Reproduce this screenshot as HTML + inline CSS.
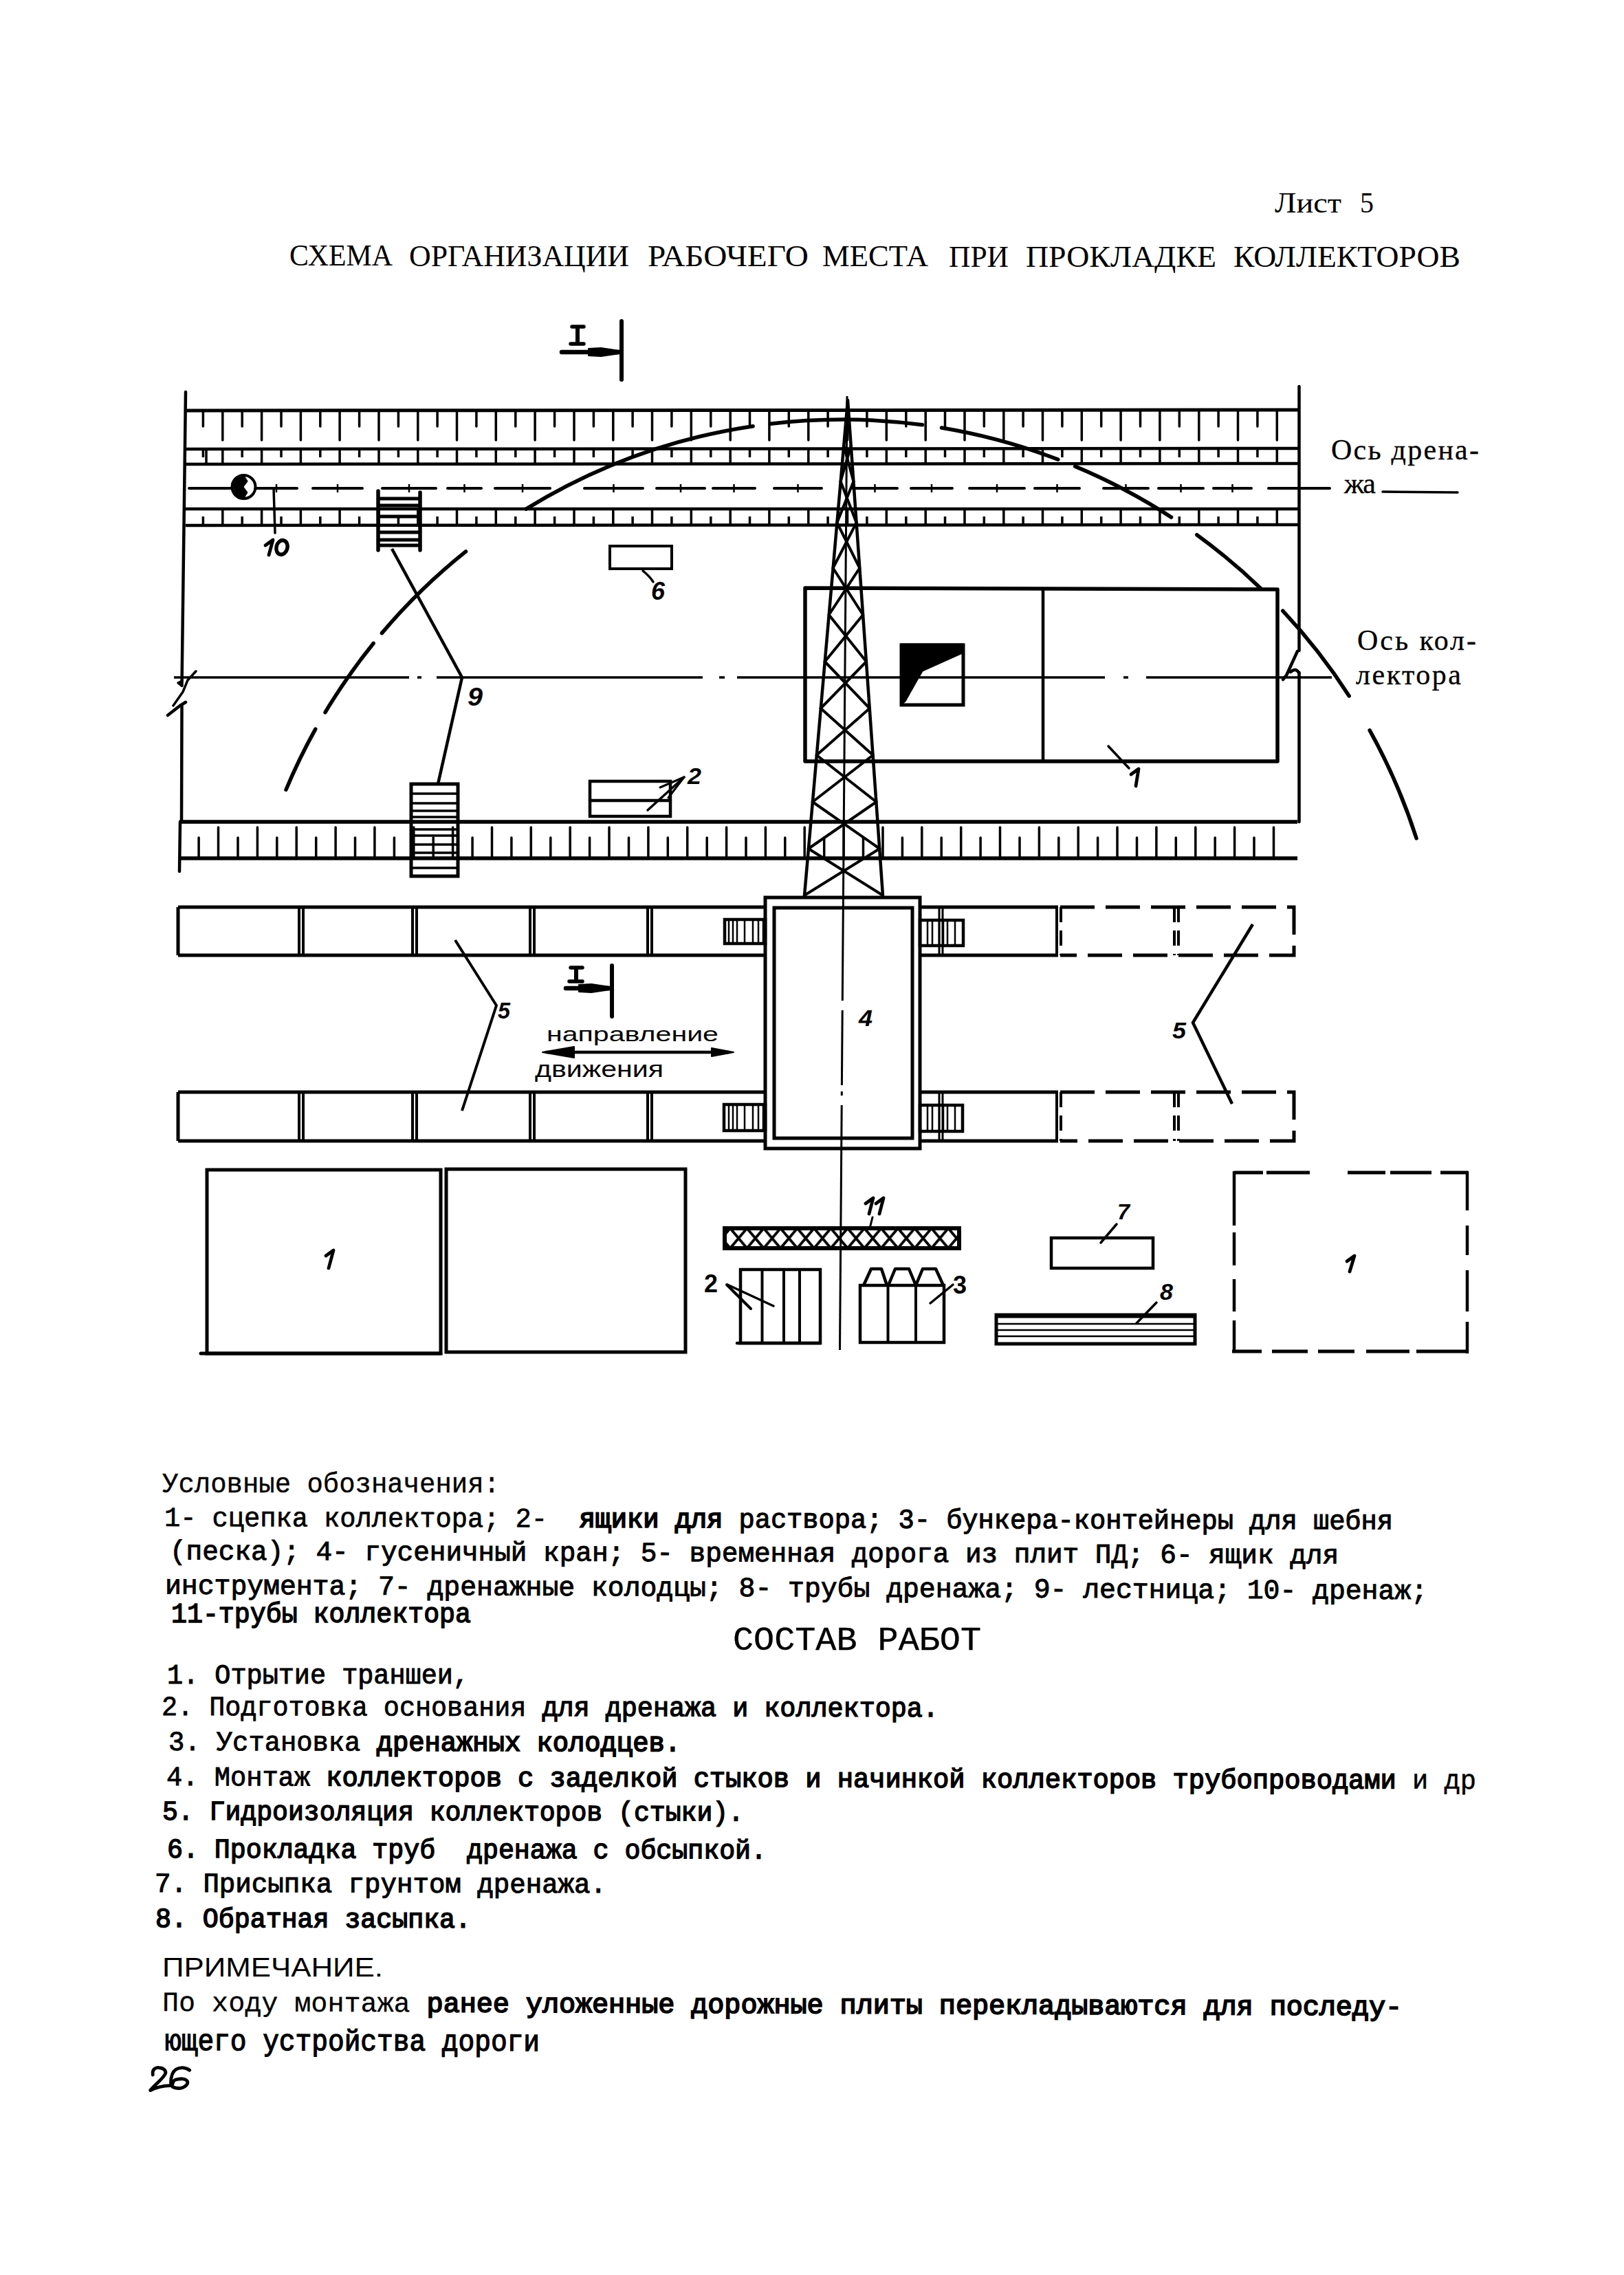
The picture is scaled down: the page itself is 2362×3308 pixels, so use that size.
<!DOCTYPE html>
<html><head><meta charset="utf-8"><style>
html,body{margin:0;padding:0;background:#fff;}
body{width:2362px;height:3308px;overflow:hidden;position:relative;}
svg{position:absolute;left:0;top:0;}
</style></head><body>
<svg width="2362" height="3308" viewBox="0 0 2362 3308" stroke="#000" fill="none">
<g fill="#000" stroke="#000">
<text x="1854" y="309" font-family="Liberation Serif" font-size="42" font-weight="normal" font-style="normal" textLength="97.0" lengthAdjust="spacingAndGlyphs" stroke="none">Лист</text>
<text x="1978" y="309" font-family="Liberation Serif" font-size="42" font-weight="normal" font-style="normal" textLength="20.0" lengthAdjust="spacingAndGlyphs" stroke="none">5</text>
<text x="421" y="386" font-family="Liberation Serif" font-size="44" font-weight="normal" font-style="normal" textLength="150.0" lengthAdjust="spacingAndGlyphs" stroke="none">СХЕМА</text>
<text x="595" y="386.5" font-family="Liberation Serif" font-size="44" font-weight="normal" font-style="normal" textLength="320.0" lengthAdjust="spacingAndGlyphs" stroke="none">ОРГАНИЗАЦИИ</text>
<text x="942" y="387" font-family="Liberation Serif" font-size="44" font-weight="normal" font-style="normal" textLength="234.0" lengthAdjust="spacingAndGlyphs" stroke="none">РАБОЧЕГО</text>
<text x="1196" y="387.3" font-family="Liberation Serif" font-size="44" font-weight="normal" font-style="normal" textLength="154.0" lengthAdjust="spacingAndGlyphs" stroke="none">МЕСТА</text>
<text x="1380" y="387.5" font-family="Liberation Serif" font-size="44" font-weight="normal" font-style="normal" textLength="87.0" lengthAdjust="spacingAndGlyphs" stroke="none">ПРИ</text>
<text x="1492" y="387.5" font-family="Liberation Serif" font-size="44" font-weight="normal" font-style="normal" textLength="277.0" lengthAdjust="spacingAndGlyphs" stroke="none">ПРОКЛАДКЕ</text>
<text x="1794" y="388" font-family="Liberation Serif" font-size="44" font-weight="normal" font-style="normal" textLength="330.0" lengthAdjust="spacingAndGlyphs" stroke="none">КОЛЛЕКТОРОВ</text>
<line x1="904.0" y1="467.0" x2="904.0" y2="552.0" stroke-width="6" stroke-linecap="round" />
<line x1="817.0" y1="512.0" x2="902.0" y2="512.0" stroke-width="6.5" stroke-linecap="round" />
<path d="M856.0 507.0 L874.0 506.0 L901.0 510.0 L901.0 514.0 L874.0 518.0 L856.0 517.0 Z" stroke-width="2" fill="#000" stroke-linejoin="round" />
<line x1="840.0" y1="474.0" x2="840.0" y2="500.0" stroke-width="6" stroke-linecap="butt" />
<line x1="832.0" y1="475.0" x2="849.0" y2="475.0" stroke-width="5.5" stroke-linecap="round" />
<line x1="830.0" y1="500.0" x2="849.0" y2="500.0" stroke-width="5.5" stroke-linecap="round" />
<line x1="890.0" y1="1404.0" x2="890.0" y2="1478.0" stroke-width="6" stroke-linecap="round" />
<line x1="823.0" y1="1437.0" x2="888.0" y2="1437.0" stroke-width="6.5" stroke-linecap="round" />
<path d="M842.0 1432.0 L860.0 1431.0 L887.0 1435.0 L887.0 1439.0 L860.0 1443.0 L842.0 1442.0 Z" stroke-width="2" fill="#000" stroke-linejoin="round" />
<line x1="838.0" y1="1406.0" x2="838.0" y2="1427.0" stroke-width="6" stroke-linecap="butt" />
<line x1="830.0" y1="1407.0" x2="847.0" y2="1407.0" stroke-width="5.5" stroke-linecap="round" />
<line x1="828.0" y1="1427.0" x2="847.0" y2="1427.0" stroke-width="5.5" stroke-linecap="round" />
<line x1="270.0" y1="570.0" x2="264.5" y2="997.0" stroke-width="4.5" stroke-linecap="round" />
<line x1="264.5" y1="1027.0" x2="264.0" y2="1195.0" stroke-width="4.5" stroke-linecap="round" />
<line x1="262.0" y1="1195.0" x2="261.0" y2="1267.0" stroke-width="4.5" stroke-linecap="round" />
<line x1="1889.5" y1="562.0" x2="1889.5" y2="946.0" stroke-width="4.5" stroke-linecap="round" />
<line x1="1889.5" y1="978.0" x2="1889.5" y2="1195.0" stroke-width="4.5" stroke-linecap="round" />
<line x1="270.0" y1="597.0" x2="1889.0" y2="596.0" stroke-width="5" stroke-linecap="butt" />
<line x1="270.0" y1="653.0" x2="1889.0" y2="652.0" stroke-width="4.5" stroke-linecap="butt" />
<line x1="270.0" y1="675.0" x2="1889.0" y2="674.0" stroke-width="4.5" stroke-linecap="butt" />
<line x1="270.0" y1="740.0" x2="1889.0" y2="740.0" stroke-width="4.5" stroke-linecap="butt" />
<line x1="270.0" y1="764.0" x2="1889.0" y2="763.0" stroke-width="4.5" stroke-linecap="butt" />
<line x1="323.8" y1="597.0" x2="323.8" y2="640.0" stroke-width="3.5" stroke-linecap="round" />
<line x1="323.8" y1="653.0" x2="323.8" y2="675.0" stroke-width="3.5" stroke-linecap="butt" />
<line x1="323.8" y1="740.0" x2="323.8" y2="764.0" stroke-width="3.5" stroke-linecap="butt" />
<line x1="380.6" y1="597.0" x2="380.6" y2="640.0" stroke-width="3.5" stroke-linecap="round" />
<line x1="380.6" y1="653.0" x2="380.6" y2="675.0" stroke-width="3.5" stroke-linecap="butt" />
<line x1="380.6" y1="740.0" x2="380.6" y2="764.0" stroke-width="3.5" stroke-linecap="butt" />
<line x1="437.4" y1="597.0" x2="437.4" y2="640.0" stroke-width="3.5" stroke-linecap="round" />
<line x1="437.4" y1="653.0" x2="437.4" y2="675.0" stroke-width="3.5" stroke-linecap="butt" />
<line x1="437.4" y1="740.0" x2="437.4" y2="764.0" stroke-width="3.5" stroke-linecap="butt" />
<line x1="494.1" y1="597.0" x2="494.1" y2="640.0" stroke-width="3.5" stroke-linecap="round" />
<line x1="494.1" y1="653.0" x2="494.1" y2="675.0" stroke-width="3.5" stroke-linecap="butt" />
<line x1="494.1" y1="740.0" x2="494.1" y2="764.0" stroke-width="3.5" stroke-linecap="butt" />
<line x1="551.0" y1="597.0" x2="551.0" y2="640.0" stroke-width="3.5" stroke-linecap="round" />
<line x1="551.0" y1="653.0" x2="551.0" y2="675.0" stroke-width="3.5" stroke-linecap="butt" />
<line x1="551.0" y1="740.0" x2="551.0" y2="764.0" stroke-width="3.5" stroke-linecap="butt" />
<line x1="607.8" y1="597.0" x2="607.8" y2="640.0" stroke-width="3.5" stroke-linecap="round" />
<line x1="607.8" y1="653.0" x2="607.8" y2="675.0" stroke-width="3.5" stroke-linecap="butt" />
<line x1="607.8" y1="740.0" x2="607.8" y2="764.0" stroke-width="3.5" stroke-linecap="butt" />
<line x1="664.5" y1="597.0" x2="664.5" y2="640.0" stroke-width="3.5" stroke-linecap="round" />
<line x1="664.5" y1="653.0" x2="664.5" y2="675.0" stroke-width="3.5" stroke-linecap="butt" />
<line x1="664.5" y1="740.0" x2="664.5" y2="764.0" stroke-width="3.5" stroke-linecap="butt" />
<line x1="721.3" y1="597.0" x2="721.3" y2="640.0" stroke-width="3.5" stroke-linecap="round" />
<line x1="721.3" y1="653.0" x2="721.3" y2="675.0" stroke-width="3.5" stroke-linecap="butt" />
<line x1="721.3" y1="740.0" x2="721.3" y2="764.0" stroke-width="3.5" stroke-linecap="butt" />
<line x1="778.1" y1="597.0" x2="778.1" y2="640.0" stroke-width="3.5" stroke-linecap="round" />
<line x1="778.1" y1="653.0" x2="778.1" y2="675.0" stroke-width="3.5" stroke-linecap="butt" />
<line x1="778.1" y1="740.0" x2="778.1" y2="764.0" stroke-width="3.5" stroke-linecap="butt" />
<line x1="835.0" y1="597.0" x2="835.0" y2="640.0" stroke-width="3.5" stroke-linecap="round" />
<line x1="835.0" y1="653.0" x2="835.0" y2="675.0" stroke-width="3.5" stroke-linecap="butt" />
<line x1="835.0" y1="740.0" x2="835.0" y2="764.0" stroke-width="3.5" stroke-linecap="butt" />
<line x1="891.8" y1="597.0" x2="891.8" y2="640.0" stroke-width="3.5" stroke-linecap="round" />
<line x1="891.8" y1="653.0" x2="891.8" y2="675.0" stroke-width="3.5" stroke-linecap="butt" />
<line x1="891.8" y1="740.0" x2="891.8" y2="764.0" stroke-width="3.5" stroke-linecap="butt" />
<line x1="948.5" y1="597.0" x2="948.5" y2="640.0" stroke-width="3.5" stroke-linecap="round" />
<line x1="948.5" y1="653.0" x2="948.5" y2="675.0" stroke-width="3.5" stroke-linecap="butt" />
<line x1="948.5" y1="740.0" x2="948.5" y2="764.0" stroke-width="3.5" stroke-linecap="butt" />
<line x1="1005.3" y1="597.0" x2="1005.3" y2="640.0" stroke-width="3.5" stroke-linecap="round" />
<line x1="1005.3" y1="653.0" x2="1005.3" y2="675.0" stroke-width="3.5" stroke-linecap="butt" />
<line x1="1005.3" y1="740.0" x2="1005.3" y2="764.0" stroke-width="3.5" stroke-linecap="butt" />
<line x1="1062.2" y1="597.0" x2="1062.2" y2="640.0" stroke-width="3.5" stroke-linecap="round" />
<line x1="1062.2" y1="653.0" x2="1062.2" y2="675.0" stroke-width="3.5" stroke-linecap="butt" />
<line x1="1062.2" y1="740.0" x2="1062.2" y2="764.0" stroke-width="3.5" stroke-linecap="butt" />
<line x1="1118.9" y1="597.0" x2="1118.9" y2="640.0" stroke-width="3.5" stroke-linecap="round" />
<line x1="1118.9" y1="653.0" x2="1118.9" y2="675.0" stroke-width="3.5" stroke-linecap="butt" />
<line x1="1118.9" y1="740.0" x2="1118.9" y2="764.0" stroke-width="3.5" stroke-linecap="butt" />
<line x1="1175.8" y1="597.0" x2="1175.8" y2="640.0" stroke-width="3.5" stroke-linecap="round" />
<line x1="1175.8" y1="653.0" x2="1175.8" y2="675.0" stroke-width="3.5" stroke-linecap="butt" />
<line x1="1175.8" y1="740.0" x2="1175.8" y2="764.0" stroke-width="3.5" stroke-linecap="butt" />
<line x1="1232.5" y1="597.0" x2="1232.5" y2="640.0" stroke-width="3.5" stroke-linecap="round" />
<line x1="1232.5" y1="653.0" x2="1232.5" y2="675.0" stroke-width="3.5" stroke-linecap="butt" />
<line x1="1232.5" y1="740.0" x2="1232.5" y2="764.0" stroke-width="3.5" stroke-linecap="butt" />
<line x1="1289.3" y1="597.0" x2="1289.3" y2="640.0" stroke-width="3.5" stroke-linecap="round" />
<line x1="1289.3" y1="653.0" x2="1289.3" y2="675.0" stroke-width="3.5" stroke-linecap="butt" />
<line x1="1289.3" y1="740.0" x2="1289.3" y2="764.0" stroke-width="3.5" stroke-linecap="butt" />
<line x1="1346.2" y1="597.0" x2="1346.2" y2="640.0" stroke-width="3.5" stroke-linecap="round" />
<line x1="1346.2" y1="653.0" x2="1346.2" y2="675.0" stroke-width="3.5" stroke-linecap="butt" />
<line x1="1346.2" y1="740.0" x2="1346.2" y2="764.0" stroke-width="3.5" stroke-linecap="butt" />
<line x1="1403.0" y1="597.0" x2="1403.0" y2="640.0" stroke-width="3.5" stroke-linecap="round" />
<line x1="1403.0" y1="653.0" x2="1403.0" y2="675.0" stroke-width="3.5" stroke-linecap="butt" />
<line x1="1403.0" y1="740.0" x2="1403.0" y2="764.0" stroke-width="3.5" stroke-linecap="butt" />
<line x1="1459.8" y1="597.0" x2="1459.8" y2="640.0" stroke-width="3.5" stroke-linecap="round" />
<line x1="1459.8" y1="653.0" x2="1459.8" y2="675.0" stroke-width="3.5" stroke-linecap="butt" />
<line x1="1459.8" y1="740.0" x2="1459.8" y2="764.0" stroke-width="3.5" stroke-linecap="butt" />
<line x1="1516.5" y1="597.0" x2="1516.5" y2="640.0" stroke-width="3.5" stroke-linecap="round" />
<line x1="1516.5" y1="653.0" x2="1516.5" y2="675.0" stroke-width="3.5" stroke-linecap="butt" />
<line x1="1516.5" y1="740.0" x2="1516.5" y2="764.0" stroke-width="3.5" stroke-linecap="butt" />
<line x1="1573.3" y1="597.0" x2="1573.3" y2="640.0" stroke-width="3.5" stroke-linecap="round" />
<line x1="1573.3" y1="653.0" x2="1573.3" y2="675.0" stroke-width="3.5" stroke-linecap="butt" />
<line x1="1573.3" y1="740.0" x2="1573.3" y2="764.0" stroke-width="3.5" stroke-linecap="butt" />
<line x1="1630.1" y1="597.0" x2="1630.1" y2="640.0" stroke-width="3.5" stroke-linecap="round" />
<line x1="1630.1" y1="653.0" x2="1630.1" y2="675.0" stroke-width="3.5" stroke-linecap="butt" />
<line x1="1630.1" y1="740.0" x2="1630.1" y2="764.0" stroke-width="3.5" stroke-linecap="butt" />
<line x1="1686.9" y1="597.0" x2="1686.9" y2="640.0" stroke-width="3.5" stroke-linecap="round" />
<line x1="1686.9" y1="653.0" x2="1686.9" y2="675.0" stroke-width="3.5" stroke-linecap="butt" />
<line x1="1686.9" y1="740.0" x2="1686.9" y2="764.0" stroke-width="3.5" stroke-linecap="butt" />
<line x1="1743.8" y1="597.0" x2="1743.8" y2="640.0" stroke-width="3.5" stroke-linecap="round" />
<line x1="1743.8" y1="653.0" x2="1743.8" y2="675.0" stroke-width="3.5" stroke-linecap="butt" />
<line x1="1743.8" y1="740.0" x2="1743.8" y2="764.0" stroke-width="3.5" stroke-linecap="butt" />
<line x1="1800.5" y1="597.0" x2="1800.5" y2="640.0" stroke-width="3.5" stroke-linecap="round" />
<line x1="1800.5" y1="653.0" x2="1800.5" y2="675.0" stroke-width="3.5" stroke-linecap="butt" />
<line x1="1800.5" y1="740.0" x2="1800.5" y2="764.0" stroke-width="3.5" stroke-linecap="butt" />
<line x1="1857.3" y1="597.0" x2="1857.3" y2="640.0" stroke-width="3.5" stroke-linecap="round" />
<line x1="1857.3" y1="653.0" x2="1857.3" y2="675.0" stroke-width="3.5" stroke-linecap="butt" />
<line x1="1857.3" y1="740.0" x2="1857.3" y2="764.0" stroke-width="3.5" stroke-linecap="butt" />
<line x1="295.4" y1="597.0" x2="295.4" y2="620.0" stroke-width="3.5" stroke-linecap="round" />
<line x1="295.4" y1="653.0" x2="295.4" y2="665.0" stroke-width="3.5" stroke-linecap="butt" />
<line x1="295.4" y1="764.0" x2="295.4" y2="751.0" stroke-width="3.5" stroke-linecap="butt" />
<line x1="352.2" y1="597.0" x2="352.2" y2="620.0" stroke-width="3.5" stroke-linecap="round" />
<line x1="352.2" y1="653.0" x2="352.2" y2="665.0" stroke-width="3.5" stroke-linecap="butt" />
<line x1="352.2" y1="764.0" x2="352.2" y2="751.0" stroke-width="3.5" stroke-linecap="butt" />
<line x1="409.0" y1="597.0" x2="409.0" y2="620.0" stroke-width="3.5" stroke-linecap="round" />
<line x1="409.0" y1="653.0" x2="409.0" y2="665.0" stroke-width="3.5" stroke-linecap="butt" />
<line x1="409.0" y1="764.0" x2="409.0" y2="751.0" stroke-width="3.5" stroke-linecap="butt" />
<line x1="465.8" y1="597.0" x2="465.8" y2="620.0" stroke-width="3.5" stroke-linecap="round" />
<line x1="465.8" y1="653.0" x2="465.8" y2="665.0" stroke-width="3.5" stroke-linecap="butt" />
<line x1="465.8" y1="764.0" x2="465.8" y2="751.0" stroke-width="3.5" stroke-linecap="butt" />
<line x1="522.6" y1="597.0" x2="522.6" y2="620.0" stroke-width="3.5" stroke-linecap="round" />
<line x1="522.6" y1="653.0" x2="522.6" y2="665.0" stroke-width="3.5" stroke-linecap="butt" />
<line x1="522.6" y1="764.0" x2="522.6" y2="751.0" stroke-width="3.5" stroke-linecap="butt" />
<line x1="579.4" y1="597.0" x2="579.4" y2="620.0" stroke-width="3.5" stroke-linecap="round" />
<line x1="579.4" y1="653.0" x2="579.4" y2="665.0" stroke-width="3.5" stroke-linecap="butt" />
<line x1="579.4" y1="764.0" x2="579.4" y2="751.0" stroke-width="3.5" stroke-linecap="butt" />
<line x1="636.1" y1="597.0" x2="636.1" y2="620.0" stroke-width="3.5" stroke-linecap="round" />
<line x1="636.1" y1="653.0" x2="636.1" y2="665.0" stroke-width="3.5" stroke-linecap="butt" />
<line x1="636.1" y1="764.0" x2="636.1" y2="751.0" stroke-width="3.5" stroke-linecap="butt" />
<line x1="692.9" y1="597.0" x2="692.9" y2="620.0" stroke-width="3.5" stroke-linecap="round" />
<line x1="692.9" y1="653.0" x2="692.9" y2="665.0" stroke-width="3.5" stroke-linecap="butt" />
<line x1="692.9" y1="764.0" x2="692.9" y2="751.0" stroke-width="3.5" stroke-linecap="butt" />
<line x1="749.8" y1="597.0" x2="749.8" y2="620.0" stroke-width="3.5" stroke-linecap="round" />
<line x1="749.8" y1="653.0" x2="749.8" y2="665.0" stroke-width="3.5" stroke-linecap="butt" />
<line x1="749.8" y1="764.0" x2="749.8" y2="751.0" stroke-width="3.5" stroke-linecap="butt" />
<line x1="806.6" y1="597.0" x2="806.6" y2="620.0" stroke-width="3.5" stroke-linecap="round" />
<line x1="806.6" y1="653.0" x2="806.6" y2="665.0" stroke-width="3.5" stroke-linecap="butt" />
<line x1="806.6" y1="764.0" x2="806.6" y2="751.0" stroke-width="3.5" stroke-linecap="butt" />
<line x1="863.4" y1="597.0" x2="863.4" y2="620.0" stroke-width="3.5" stroke-linecap="round" />
<line x1="863.4" y1="653.0" x2="863.4" y2="665.0" stroke-width="3.5" stroke-linecap="butt" />
<line x1="863.4" y1="764.0" x2="863.4" y2="751.0" stroke-width="3.5" stroke-linecap="butt" />
<line x1="920.1" y1="597.0" x2="920.1" y2="620.0" stroke-width="3.5" stroke-linecap="round" />
<line x1="920.1" y1="653.0" x2="920.1" y2="665.0" stroke-width="3.5" stroke-linecap="butt" />
<line x1="920.1" y1="764.0" x2="920.1" y2="751.0" stroke-width="3.5" stroke-linecap="butt" />
<line x1="976.9" y1="597.0" x2="976.9" y2="620.0" stroke-width="3.5" stroke-linecap="round" />
<line x1="976.9" y1="653.0" x2="976.9" y2="665.0" stroke-width="3.5" stroke-linecap="butt" />
<line x1="976.9" y1="764.0" x2="976.9" y2="751.0" stroke-width="3.5" stroke-linecap="butt" />
<line x1="1033.8" y1="597.0" x2="1033.8" y2="620.0" stroke-width="3.5" stroke-linecap="round" />
<line x1="1033.8" y1="653.0" x2="1033.8" y2="665.0" stroke-width="3.5" stroke-linecap="butt" />
<line x1="1033.8" y1="764.0" x2="1033.8" y2="751.0" stroke-width="3.5" stroke-linecap="butt" />
<line x1="1090.5" y1="597.0" x2="1090.5" y2="620.0" stroke-width="3.5" stroke-linecap="round" />
<line x1="1090.5" y1="653.0" x2="1090.5" y2="665.0" stroke-width="3.5" stroke-linecap="butt" />
<line x1="1090.5" y1="764.0" x2="1090.5" y2="751.0" stroke-width="3.5" stroke-linecap="butt" />
<line x1="1147.3" y1="597.0" x2="1147.3" y2="620.0" stroke-width="3.5" stroke-linecap="round" />
<line x1="1147.3" y1="653.0" x2="1147.3" y2="665.0" stroke-width="3.5" stroke-linecap="butt" />
<line x1="1147.3" y1="764.0" x2="1147.3" y2="751.0" stroke-width="3.5" stroke-linecap="butt" />
<line x1="1204.1" y1="597.0" x2="1204.1" y2="620.0" stroke-width="3.5" stroke-linecap="round" />
<line x1="1204.1" y1="653.0" x2="1204.1" y2="665.0" stroke-width="3.5" stroke-linecap="butt" />
<line x1="1204.1" y1="764.0" x2="1204.1" y2="751.0" stroke-width="3.5" stroke-linecap="butt" />
<line x1="1260.9" y1="597.0" x2="1260.9" y2="620.0" stroke-width="3.5" stroke-linecap="round" />
<line x1="1260.9" y1="653.0" x2="1260.9" y2="665.0" stroke-width="3.5" stroke-linecap="butt" />
<line x1="1260.9" y1="764.0" x2="1260.9" y2="751.0" stroke-width="3.5" stroke-linecap="butt" />
<line x1="1317.8" y1="597.0" x2="1317.8" y2="620.0" stroke-width="3.5" stroke-linecap="round" />
<line x1="1317.8" y1="653.0" x2="1317.8" y2="665.0" stroke-width="3.5" stroke-linecap="butt" />
<line x1="1317.8" y1="764.0" x2="1317.8" y2="751.0" stroke-width="3.5" stroke-linecap="butt" />
<line x1="1374.5" y1="597.0" x2="1374.5" y2="620.0" stroke-width="3.5" stroke-linecap="round" />
<line x1="1374.5" y1="653.0" x2="1374.5" y2="665.0" stroke-width="3.5" stroke-linecap="butt" />
<line x1="1374.5" y1="764.0" x2="1374.5" y2="751.0" stroke-width="3.5" stroke-linecap="butt" />
<line x1="1431.3" y1="597.0" x2="1431.3" y2="620.0" stroke-width="3.5" stroke-linecap="round" />
<line x1="1431.3" y1="653.0" x2="1431.3" y2="665.0" stroke-width="3.5" stroke-linecap="butt" />
<line x1="1431.3" y1="764.0" x2="1431.3" y2="751.0" stroke-width="3.5" stroke-linecap="butt" />
<line x1="1488.1" y1="597.0" x2="1488.1" y2="620.0" stroke-width="3.5" stroke-linecap="round" />
<line x1="1488.1" y1="653.0" x2="1488.1" y2="665.0" stroke-width="3.5" stroke-linecap="butt" />
<line x1="1488.1" y1="764.0" x2="1488.1" y2="751.0" stroke-width="3.5" stroke-linecap="butt" />
<line x1="1544.9" y1="597.0" x2="1544.9" y2="620.0" stroke-width="3.5" stroke-linecap="round" />
<line x1="1544.9" y1="653.0" x2="1544.9" y2="665.0" stroke-width="3.5" stroke-linecap="butt" />
<line x1="1544.9" y1="764.0" x2="1544.9" y2="751.0" stroke-width="3.5" stroke-linecap="butt" />
<line x1="1601.7" y1="597.0" x2="1601.7" y2="620.0" stroke-width="3.5" stroke-linecap="round" />
<line x1="1601.7" y1="653.0" x2="1601.7" y2="665.0" stroke-width="3.5" stroke-linecap="butt" />
<line x1="1601.7" y1="764.0" x2="1601.7" y2="751.0" stroke-width="3.5" stroke-linecap="butt" />
<line x1="1658.5" y1="597.0" x2="1658.5" y2="620.0" stroke-width="3.5" stroke-linecap="round" />
<line x1="1658.5" y1="653.0" x2="1658.5" y2="665.0" stroke-width="3.5" stroke-linecap="butt" />
<line x1="1658.5" y1="764.0" x2="1658.5" y2="751.0" stroke-width="3.5" stroke-linecap="butt" />
<line x1="1715.3" y1="597.0" x2="1715.3" y2="620.0" stroke-width="3.5" stroke-linecap="round" />
<line x1="1715.3" y1="653.0" x2="1715.3" y2="665.0" stroke-width="3.5" stroke-linecap="butt" />
<line x1="1715.3" y1="764.0" x2="1715.3" y2="751.0" stroke-width="3.5" stroke-linecap="butt" />
<line x1="1772.1" y1="597.0" x2="1772.1" y2="620.0" stroke-width="3.5" stroke-linecap="round" />
<line x1="1772.1" y1="653.0" x2="1772.1" y2="665.0" stroke-width="3.5" stroke-linecap="butt" />
<line x1="1772.1" y1="764.0" x2="1772.1" y2="751.0" stroke-width="3.5" stroke-linecap="butt" />
<line x1="1828.9" y1="597.0" x2="1828.9" y2="620.0" stroke-width="3.5" stroke-linecap="round" />
<line x1="1828.9" y1="653.0" x2="1828.9" y2="665.0" stroke-width="3.5" stroke-linecap="butt" />
<line x1="1828.9" y1="764.0" x2="1828.9" y2="751.0" stroke-width="3.5" stroke-linecap="butt" />
<line x1="300.0" y1="653.0" x2="300.0" y2="675.0" stroke-width="3.5" stroke-linecap="butt" />
<line x1="275.0" y1="710.0" x2="336.0" y2="710.0" stroke-width="4" stroke-linecap="round" />
<line x1="372.0" y1="710.0" x2="432.0" y2="710.0" stroke-width="4" stroke-linecap="round" />
<line x1="455.0" y1="710.0" x2="527.0" y2="710.0" stroke-width="4" stroke-linecap="round" />
<line x1="556.0" y1="710.0" x2="634.0" y2="710.0" stroke-width="4" stroke-linecap="round" />
<line x1="651.0" y1="710.0" x2="700.0" y2="710.0" stroke-width="4" stroke-linecap="round" />
<line x1="720.0" y1="710.0" x2="800.0" y2="710.0" stroke-width="4" stroke-linecap="round" />
<line x1="850.0" y1="710.0" x2="935.0" y2="710.0" stroke-width="4" stroke-linecap="round" />
<line x1="955.0" y1="710.0" x2="1025.0" y2="710.0" stroke-width="4" stroke-linecap="round" />
<line x1="1037.0" y1="710.0" x2="1098.0" y2="710.0" stroke-width="4" stroke-linecap="round" />
<line x1="1126.0" y1="710.0" x2="1195.0" y2="710.0" stroke-width="4" stroke-linecap="round" />
<line x1="1240.0" y1="710.0" x2="1305.0" y2="710.0" stroke-width="4" stroke-linecap="round" />
<line x1="1325.0" y1="710.0" x2="1385.0" y2="710.0" stroke-width="4" stroke-linecap="round" />
<line x1="1410.0" y1="710.0" x2="1490.0" y2="710.0" stroke-width="4" stroke-linecap="round" />
<line x1="1505.0" y1="710.0" x2="1570.0" y2="710.0" stroke-width="4" stroke-linecap="round" />
<line x1="1605.0" y1="710.0" x2="1670.0" y2="710.0" stroke-width="4" stroke-linecap="round" />
<line x1="1685.0" y1="710.0" x2="1750.0" y2="710.0" stroke-width="4" stroke-linecap="round" />
<line x1="1765.0" y1="710.0" x2="1820.0" y2="710.0" stroke-width="4" stroke-linecap="round" />
<line x1="1845.0" y1="710.0" x2="1934.0" y2="710.0" stroke-width="4" stroke-linecap="round" />
<line x1="402.0" y1="704.0" x2="402.0" y2="716.0" stroke-width="2.5" stroke-linecap="butt" />
<line x1="491.0" y1="704.0" x2="491.0" y2="716.0" stroke-width="2.5" stroke-linecap="butt" />
<line x1="595.0" y1="704.0" x2="595.0" y2="716.0" stroke-width="2.5" stroke-linecap="butt" />
<line x1="675.5" y1="704.0" x2="675.5" y2="716.0" stroke-width="2.5" stroke-linecap="butt" />
<line x1="760.0" y1="704.0" x2="760.0" y2="716.0" stroke-width="2.5" stroke-linecap="butt" />
<line x1="892.5" y1="704.0" x2="892.5" y2="716.0" stroke-width="2.5" stroke-linecap="butt" />
<line x1="990.0" y1="704.0" x2="990.0" y2="716.0" stroke-width="2.5" stroke-linecap="butt" />
<line x1="1067.5" y1="704.0" x2="1067.5" y2="716.0" stroke-width="2.5" stroke-linecap="butt" />
<line x1="1160.5" y1="704.0" x2="1160.5" y2="716.0" stroke-width="2.5" stroke-linecap="butt" />
<line x1="1272.5" y1="704.0" x2="1272.5" y2="716.0" stroke-width="2.5" stroke-linecap="butt" />
<line x1="1355.0" y1="704.0" x2="1355.0" y2="716.0" stroke-width="2.5" stroke-linecap="butt" />
<line x1="1450.0" y1="704.0" x2="1450.0" y2="716.0" stroke-width="2.5" stroke-linecap="butt" />
<line x1="1537.5" y1="704.0" x2="1537.5" y2="716.0" stroke-width="2.5" stroke-linecap="butt" />
<line x1="1637.5" y1="704.0" x2="1637.5" y2="716.0" stroke-width="2.5" stroke-linecap="butt" />
<line x1="1717.5" y1="704.0" x2="1717.5" y2="716.0" stroke-width="2.5" stroke-linecap="butt" />
<line x1="1792.5" y1="704.0" x2="1792.5" y2="716.0" stroke-width="2.5" stroke-linecap="butt" />
<line x1="1889.5" y1="704.0" x2="1889.5" y2="716.0" stroke-width="2.5" stroke-linecap="butt" />
<circle cx="354.5" cy="708" r="17" stroke-width="4" fill="#fff"/>
<path d="M354.5 691 A17 17 0 0 0 354.5 725 L360 716 L354 708 L360 700 Z" stroke-width="1" fill="#000" stroke-linejoin="round" stroke-linecap="round" />
<path d="M371 710 L398 710 L400 775" stroke-width="3.5" fill="none" stroke-linejoin="round" stroke-linecap="round" />
<path d="M386.0 793.0 L397.0 785.0 L391.0 807.0" stroke-width="4.8" fill="none" stroke-linejoin="round" stroke-linecap="round" />
<ellipse cx="410" cy="796" rx="8" ry="10.5" stroke-width="5.5" fill="none" transform="rotate(15 410 796)"/>
<line x1="550.0" y1="714.0" x2="550.0" y2="800.0" stroke-width="5.5" stroke-linecap="round" />
<line x1="611.0" y1="716.0" x2="611.0" y2="800.0" stroke-width="5.5" stroke-linecap="round" />
<line x1="550.0" y1="725.0" x2="611.0" y2="725.0" stroke-width="5" stroke-linecap="butt" />
<line x1="550.0" y1="735.0" x2="611.0" y2="735.0" stroke-width="5" stroke-linecap="butt" />
<line x1="550.0" y1="751.0" x2="611.0" y2="751.0" stroke-width="5" stroke-linecap="butt" />
<line x1="550.0" y1="774.0" x2="611.0" y2="774.0" stroke-width="5" stroke-linecap="butt" />
<line x1="550.0" y1="785.0" x2="611.0" y2="785.0" stroke-width="5" stroke-linecap="butt" />
<line x1="550.0" y1="793.0" x2="611.0" y2="793.0" stroke-width="5" stroke-linecap="butt" />
<line x1="598.0" y1="1154.0" x2="666.0" y2="1154.0" stroke-width="3.5" stroke-linecap="butt" />
<line x1="598.0" y1="1168.0" x2="666.0" y2="1168.0" stroke-width="3.5" stroke-linecap="butt" />
<line x1="598.0" y1="1179.0" x2="666.0" y2="1179.0" stroke-width="3.5" stroke-linecap="butt" />
<line x1="598.0" y1="1188.0" x2="666.0" y2="1188.0" stroke-width="3.5" stroke-linecap="butt" />
<line x1="598.0" y1="1206.0" x2="666.0" y2="1206.0" stroke-width="3.5" stroke-linecap="butt" />
<line x1="598.0" y1="1215.0" x2="666.0" y2="1215.0" stroke-width="3.5" stroke-linecap="butt" />
<line x1="598.0" y1="1228.0" x2="666.0" y2="1228.0" stroke-width="3.5" stroke-linecap="butt" />
<line x1="598.0" y1="1240.0" x2="666.0" y2="1240.0" stroke-width="3.5" stroke-linecap="butt" />
<line x1="598.0" y1="1262.0" x2="666.0" y2="1262.0" stroke-width="3.5" stroke-linecap="butt" />
<rect x="598.0" y="1140.0" width="68.0" height="134.0" stroke-width="5" fill="none"/>
<path d="M570.0 798.0 L672.0 985.0 L637.0 1140.0" stroke-width="4.5" fill="none" stroke-linejoin="round" />
<text x="680" y="1026" font-family="Liberation Sans" font-size="36" font-weight="bold" font-style="italic" textLength="22.0" lengthAdjust="spacingAndGlyphs" stroke="none">9</text>
<rect x="887.0" y="794.0" width="90.0" height="33.0" stroke-width="4" fill="none"/>
<path d="M935 830 Q945 838 950 846" stroke-width="3.5" fill="none" stroke-linejoin="round" stroke-linecap="round" />
<text x="947" y="872" font-family="Liberation Sans" font-size="36" font-weight="bold" font-style="italic" textLength="20.0" lengthAdjust="spacingAndGlyphs" stroke="none">6</text>
<rect x="858.0" y="1136.0" width="117.0" height="51.0" stroke-width="4.5" fill="none"/>
<line x1="858.0" y1="1164.0" x2="975.0" y2="1164.0" stroke-width="4.5" stroke-linecap="round" />
<line x1="942.0" y1="1178.0" x2="995.0" y2="1130.0" stroke-width="3.5" stroke-linecap="round" />
<path d="M960 1145 L995 1130 L972 1160" stroke-width="3" fill="none" stroke-linejoin="round" stroke-linecap="round" />
<text x="1000" y="1140" font-family="Liberation Sans" font-size="34" font-weight="bold" font-style="italic" textLength="20.0" lengthAdjust="spacingAndGlyphs" stroke="none">2</text>
<path d="M416.0 1148.3 A877 877 0 0 1 458.8 1060.2" stroke-width="5.5" fill="none" stroke-linejoin="round" stroke-linecap="round" />
<path d="M473.0 1035.8 A877 877 0 0 1 543.1 935.5" stroke-width="5.5" fill="none" stroke-linejoin="round" stroke-linecap="round" />
<path d="M555.4 920.6 A877 877 0 0 1 677.5 801.9" stroke-width="5.5" fill="none" stroke-linejoin="round" stroke-linecap="round" />
<path d="M765.1 740.2 A877 877 0 0 1 1095.1 619.7" stroke-width="5.5" fill="none" stroke-linejoin="round" stroke-linecap="round" />
<path d="M1120.3 616.3 A877 877 0 0 1 1341.6 617.8" stroke-width="5.5" fill="none" stroke-linejoin="round" stroke-linecap="round" />
<path d="M1369.5 622.0 A877 877 0 0 1 1538.8 668.1" stroke-width="5.5" fill="none" stroke-linejoin="round" stroke-linecap="round" />
<path d="M1563.7 678.1 A877 877 0 0 1 1703.6 752.1" stroke-width="5.5" fill="none" stroke-linejoin="round" stroke-linecap="round" />
<path d="M1740.8 777.7 A877 877 0 0 1 1834.1 856.0" stroke-width="5.5" fill="none" stroke-linejoin="round" stroke-linecap="round" />
<path d="M1865.7 888.2 A877 877 0 0 1 1962.2 1011.9" stroke-width="5.5" fill="none" stroke-linejoin="round" stroke-linecap="round" />
<path d="M1992.1 1061.9 A877 877 0 0 1 2060.1 1219.0" stroke-width="5.5" fill="none" stroke-linejoin="round" stroke-linecap="round" />
<path d="M1171.0 855.0 L1858.0 857.0 L1858.0 1107.0 L1171.0 1107.0 Z" stroke-width="5.5" fill="none" stroke-linejoin="round" />
<line x1="1517.0" y1="856.0" x2="1517.0" y2="1107.0" stroke-width="4.5" stroke-linecap="round" />
<line x1="1612.0" y1="1085.0" x2="1642.0" y2="1117.0" stroke-width="3.5" stroke-linecap="round" />
<path d="M1645.0 1126.0 L1656.0 1118.0 L1652.0 1143.0" stroke-width="4.8" fill="none" stroke-linejoin="round" stroke-linecap="round" />
<rect x="1311.0" y="938.0" width="90.0" height="87.0" stroke-width="5" fill="none"/>
<path d="M1310 936 L1402 936 L1400 950 L1342 976 L1335 988 L1317 1020 L1310 1026 Z" stroke-width="1" fill="#000" stroke-linejoin="round" stroke-linecap="round" />
<line x1="253.0" y1="985.0" x2="595.0" y2="985.0" stroke-width="3.5" stroke-linecap="butt" />
<line x1="607.0" y1="985.0" x2="613.0" y2="985.0" stroke-width="3.5" stroke-linecap="butt" />
<line x1="635.0" y1="985.0" x2="1022.0" y2="985.0" stroke-width="3.5" stroke-linecap="butt" />
<line x1="1046.0" y1="985.0" x2="1054.0" y2="985.0" stroke-width="3.5" stroke-linecap="butt" />
<line x1="1072.0" y1="985.0" x2="1607.0" y2="985.0" stroke-width="3.5" stroke-linecap="butt" />
<line x1="1634.0" y1="985.0" x2="1641.0" y2="985.0" stroke-width="3.5" stroke-linecap="butt" />
<line x1="1667.0" y1="985.0" x2="1937.0" y2="985.0" stroke-width="3.5" stroke-linecap="butt" />
<path d="M285 976 L273 989 L266 1006 L252 1026" stroke-width="3.5" fill="none" stroke-linejoin="round" stroke-linecap="round" />
<path d="M270 1021 L262 1026 L244 1040" stroke-width="4.5" fill="none" stroke-linejoin="round" stroke-linecap="round" />
<path d="M265 990 L259 993 L264 997" stroke-width="3.5" fill="none" stroke-linejoin="round" stroke-linecap="round" />
<path d="M1887 947 L1871 982 L1866 988" stroke-width="4.5" fill="none" stroke-linejoin="round" stroke-linecap="round" />
<path d="M1877 977 Q1885 970 1889.5 979" stroke-width="4.5" fill="none" stroke-linejoin="round" stroke-linecap="round" />
<path d="M1170.0 1302.0 L1233.0 582.0 L1284.0 1302.0" stroke-width="4.5" fill="none" stroke-linejoin="round" />
<line x1="1169.8" y1="1302.0" x2="1279.3" y2="1234.0" stroke-width="4" stroke-linecap="round" />
<line x1="1284.1" y1="1302.0" x2="1175.8" y2="1234.0" stroke-width="4" stroke-linecap="round" />
<line x1="1175.8" y1="1234.0" x2="1274.5" y2="1166.0" stroke-width="4" stroke-linecap="round" />
<line x1="1279.3" y1="1234.0" x2="1181.8" y2="1166.0" stroke-width="4" stroke-linecap="round" />
<line x1="1181.8" y1="1166.0" x2="1269.7" y2="1098.0" stroke-width="4" stroke-linecap="round" />
<line x1="1274.5" y1="1166.0" x2="1187.7" y2="1098.0" stroke-width="4" stroke-linecap="round" />
<line x1="1187.7" y1="1098.0" x2="1264.8" y2="1030.0" stroke-width="4" stroke-linecap="round" />
<line x1="1269.7" y1="1098.0" x2="1193.7" y2="1030.0" stroke-width="4" stroke-linecap="round" />
<line x1="1193.7" y1="1030.0" x2="1260.0" y2="962.0" stroke-width="4" stroke-linecap="round" />
<line x1="1264.8" y1="1030.0" x2="1199.7" y2="962.0" stroke-width="4" stroke-linecap="round" />
<line x1="1199.7" y1="962.0" x2="1255.2" y2="894.0" stroke-width="4" stroke-linecap="round" />
<line x1="1260.0" y1="962.0" x2="1205.6" y2="894.0" stroke-width="4" stroke-linecap="round" />
<line x1="1205.6" y1="894.0" x2="1250.3" y2="826.0" stroke-width="4" stroke-linecap="round" />
<line x1="1255.2" y1="894.0" x2="1211.6" y2="826.0" stroke-width="4" stroke-linecap="round" />
<line x1="1211.6" y1="826.0" x2="1245.6" y2="760.0" stroke-width="4" stroke-linecap="round" />
<line x1="1250.3" y1="826.0" x2="1217.4" y2="760.0" stroke-width="4" stroke-linecap="round" />
<line x1="1217.4" y1="760.0" x2="1241.4" y2="700.0" stroke-width="4" stroke-linecap="round" />
<line x1="1245.6" y1="760.0" x2="1222.6" y2="700.0" stroke-width="4" stroke-linecap="round" />
<line x1="1222.6" y1="700.0" x2="1237.7" y2="648.0" stroke-width="4" stroke-linecap="round" />
<line x1="1241.4" y1="700.0" x2="1227.2" y2="648.0" stroke-width="4" stroke-linecap="round" />
<line x1="1232.0" y1="576.0" x2="1225.3" y2="1455.0" stroke-width="3" stroke-linecap="butt" />
<line x1="1225.2" y1="1469.0" x2="1224.4" y2="1578.0" stroke-width="3" stroke-linecap="butt" />
<line x1="1224.3" y1="1587.0" x2="1224.3" y2="1593.0" stroke-width="3" stroke-linecap="butt" />
<line x1="1224.2" y1="1607.0" x2="1221.5" y2="1963.0" stroke-width="3" stroke-linecap="butt" />
<line x1="261.0" y1="1195.0" x2="1887.0" y2="1195.0" stroke-width="5.5" stroke-linecap="butt" />
<line x1="261.0" y1="1248.0" x2="1887.0" y2="1248.0" stroke-width="5.5" stroke-linecap="butt" />
<line x1="317.5" y1="1248.0" x2="317.5" y2="1203.0" stroke-width="3.5" stroke-linecap="round" />
<line x1="289.1" y1="1248.0" x2="289.1" y2="1218.0" stroke-width="3.5" stroke-linecap="round" />
<line x1="374.4" y1="1248.0" x2="374.4" y2="1203.0" stroke-width="3.5" stroke-linecap="round" />
<line x1="346.0" y1="1248.0" x2="346.0" y2="1218.0" stroke-width="3.5" stroke-linecap="round" />
<line x1="431.2" y1="1248.0" x2="431.2" y2="1203.0" stroke-width="3.5" stroke-linecap="round" />
<line x1="402.8" y1="1248.0" x2="402.8" y2="1218.0" stroke-width="3.5" stroke-linecap="round" />
<line x1="488.1" y1="1248.0" x2="488.1" y2="1203.0" stroke-width="3.5" stroke-linecap="round" />
<line x1="459.7" y1="1248.0" x2="459.7" y2="1218.0" stroke-width="3.5" stroke-linecap="round" />
<line x1="544.9" y1="1248.0" x2="544.9" y2="1203.0" stroke-width="3.5" stroke-linecap="round" />
<line x1="516.5" y1="1248.0" x2="516.5" y2="1218.0" stroke-width="3.5" stroke-linecap="round" />
<line x1="601.8" y1="1248.0" x2="601.8" y2="1203.0" stroke-width="3.5" stroke-linecap="round" />
<line x1="573.4" y1="1248.0" x2="573.4" y2="1218.0" stroke-width="3.5" stroke-linecap="round" />
<line x1="658.6" y1="1248.0" x2="658.6" y2="1203.0" stroke-width="3.5" stroke-linecap="round" />
<line x1="630.2" y1="1248.0" x2="630.2" y2="1218.0" stroke-width="3.5" stroke-linecap="round" />
<line x1="715.5" y1="1248.0" x2="715.5" y2="1203.0" stroke-width="3.5" stroke-linecap="round" />
<line x1="687.1" y1="1248.0" x2="687.1" y2="1218.0" stroke-width="3.5" stroke-linecap="round" />
<line x1="772.3" y1="1248.0" x2="772.3" y2="1203.0" stroke-width="3.5" stroke-linecap="round" />
<line x1="743.9" y1="1248.0" x2="743.9" y2="1218.0" stroke-width="3.5" stroke-linecap="round" />
<line x1="829.2" y1="1248.0" x2="829.2" y2="1203.0" stroke-width="3.5" stroke-linecap="round" />
<line x1="800.8" y1="1248.0" x2="800.8" y2="1218.0" stroke-width="3.5" stroke-linecap="round" />
<line x1="886.0" y1="1248.0" x2="886.0" y2="1203.0" stroke-width="3.5" stroke-linecap="round" />
<line x1="857.6" y1="1248.0" x2="857.6" y2="1218.0" stroke-width="3.5" stroke-linecap="round" />
<line x1="942.9" y1="1248.0" x2="942.9" y2="1203.0" stroke-width="3.5" stroke-linecap="round" />
<line x1="914.5" y1="1248.0" x2="914.5" y2="1218.0" stroke-width="3.5" stroke-linecap="round" />
<line x1="999.7" y1="1248.0" x2="999.7" y2="1203.0" stroke-width="3.5" stroke-linecap="round" />
<line x1="971.3" y1="1248.0" x2="971.3" y2="1218.0" stroke-width="3.5" stroke-linecap="round" />
<line x1="1056.6" y1="1248.0" x2="1056.6" y2="1203.0" stroke-width="3.5" stroke-linecap="round" />
<line x1="1028.2" y1="1248.0" x2="1028.2" y2="1218.0" stroke-width="3.5" stroke-linecap="round" />
<line x1="1113.4" y1="1248.0" x2="1113.4" y2="1203.0" stroke-width="3.5" stroke-linecap="round" />
<line x1="1085.0" y1="1248.0" x2="1085.0" y2="1218.0" stroke-width="3.5" stroke-linecap="round" />
<line x1="1170.2" y1="1248.0" x2="1170.2" y2="1203.0" stroke-width="3.5" stroke-linecap="round" />
<line x1="1141.8" y1="1248.0" x2="1141.8" y2="1218.0" stroke-width="3.5" stroke-linecap="round" />
<line x1="1227.1" y1="1248.0" x2="1227.1" y2="1203.0" stroke-width="3.5" stroke-linecap="round" />
<line x1="1198.7" y1="1248.0" x2="1198.7" y2="1218.0" stroke-width="3.5" stroke-linecap="round" />
<line x1="1284.0" y1="1248.0" x2="1284.0" y2="1203.0" stroke-width="3.5" stroke-linecap="round" />
<line x1="1255.5" y1="1248.0" x2="1255.5" y2="1218.0" stroke-width="3.5" stroke-linecap="round" />
<line x1="1340.8" y1="1248.0" x2="1340.8" y2="1203.0" stroke-width="3.5" stroke-linecap="round" />
<line x1="1312.4" y1="1248.0" x2="1312.4" y2="1218.0" stroke-width="3.5" stroke-linecap="round" />
<line x1="1397.7" y1="1248.0" x2="1397.7" y2="1203.0" stroke-width="3.5" stroke-linecap="round" />
<line x1="1369.2" y1="1248.0" x2="1369.2" y2="1218.0" stroke-width="3.5" stroke-linecap="round" />
<line x1="1454.5" y1="1248.0" x2="1454.5" y2="1203.0" stroke-width="3.5" stroke-linecap="round" />
<line x1="1426.1" y1="1248.0" x2="1426.1" y2="1218.0" stroke-width="3.5" stroke-linecap="round" />
<line x1="1511.4" y1="1248.0" x2="1511.4" y2="1203.0" stroke-width="3.5" stroke-linecap="round" />
<line x1="1483.0" y1="1248.0" x2="1483.0" y2="1218.0" stroke-width="3.5" stroke-linecap="round" />
<line x1="1568.2" y1="1248.0" x2="1568.2" y2="1203.0" stroke-width="3.5" stroke-linecap="round" />
<line x1="1539.8" y1="1248.0" x2="1539.8" y2="1218.0" stroke-width="3.5" stroke-linecap="round" />
<line x1="1625.0" y1="1248.0" x2="1625.0" y2="1203.0" stroke-width="3.5" stroke-linecap="round" />
<line x1="1596.6" y1="1248.0" x2="1596.6" y2="1218.0" stroke-width="3.5" stroke-linecap="round" />
<line x1="1681.9" y1="1248.0" x2="1681.9" y2="1203.0" stroke-width="3.5" stroke-linecap="round" />
<line x1="1653.5" y1="1248.0" x2="1653.5" y2="1218.0" stroke-width="3.5" stroke-linecap="round" />
<line x1="1738.8" y1="1248.0" x2="1738.8" y2="1203.0" stroke-width="3.5" stroke-linecap="round" />
<line x1="1710.3" y1="1248.0" x2="1710.3" y2="1218.0" stroke-width="3.5" stroke-linecap="round" />
<line x1="1795.6" y1="1248.0" x2="1795.6" y2="1203.0" stroke-width="3.5" stroke-linecap="round" />
<line x1="1767.2" y1="1248.0" x2="1767.2" y2="1218.0" stroke-width="3.5" stroke-linecap="round" />
<line x1="1852.5" y1="1248.0" x2="1852.5" y2="1203.0" stroke-width="3.5" stroke-linecap="round" />
<line x1="1824.0" y1="1248.0" x2="1824.0" y2="1218.0" stroke-width="3.5" stroke-linecap="round" />
<rect x="1113.0" y="1305.0" width="225.0" height="365.0" stroke-width="5" fill="none"/>
<rect x="1126.0" y="1320.0" width="201.0" height="335.0" stroke-width="5" fill="none"/>
<rect x="1054.0" y="1337.0" width="59.0" height="35.0" stroke-width="4.5" fill="none"/>
<line x1="1060.0" y1="1337.0" x2="1060.0" y2="1372.0" stroke-width="2.5" stroke-linecap="butt" />
<line x1="1066.0" y1="1337.0" x2="1066.0" y2="1372.0" stroke-width="2.5" stroke-linecap="butt" />
<line x1="1072.0" y1="1337.0" x2="1072.0" y2="1372.0" stroke-width="2.5" stroke-linecap="butt" />
<line x1="1083.0" y1="1337.0" x2="1083.0" y2="1372.0" stroke-width="2.5" stroke-linecap="butt" />
<line x1="1095.0" y1="1337.0" x2="1095.0" y2="1372.0" stroke-width="2.5" stroke-linecap="butt" />
<line x1="1103.0" y1="1337.0" x2="1103.0" y2="1372.0" stroke-width="2.5" stroke-linecap="butt" />
<line x1="1110.0" y1="1337.0" x2="1110.0" y2="1372.0" stroke-width="2.5" stroke-linecap="butt" />
<rect x="1338.0" y="1338.0" width="63.0" height="37.0" stroke-width="4.5" fill="none"/>
<line x1="1349.0" y1="1338.0" x2="1349.0" y2="1375.0" stroke-width="2.5" stroke-linecap="butt" />
<line x1="1356.0" y1="1338.0" x2="1356.0" y2="1375.0" stroke-width="2.5" stroke-linecap="butt" />
<line x1="1366.0" y1="1338.0" x2="1366.0" y2="1375.0" stroke-width="2.5" stroke-linecap="butt" />
<line x1="1372.0" y1="1338.0" x2="1372.0" y2="1375.0" stroke-width="2.5" stroke-linecap="butt" />
<line x1="1378.0" y1="1338.0" x2="1378.0" y2="1375.0" stroke-width="2.5" stroke-linecap="butt" />
<line x1="1389.0" y1="1338.0" x2="1389.0" y2="1375.0" stroke-width="2.5" stroke-linecap="butt" />
<rect x="1053.0" y="1606.0" width="60.0" height="38.0" stroke-width="4.5" fill="none"/>
<line x1="1060.0" y1="1606.0" x2="1060.0" y2="1644.0" stroke-width="2.5" stroke-linecap="butt" />
<line x1="1066.0" y1="1606.0" x2="1066.0" y2="1644.0" stroke-width="2.5" stroke-linecap="butt" />
<line x1="1072.0" y1="1606.0" x2="1072.0" y2="1644.0" stroke-width="2.5" stroke-linecap="butt" />
<line x1="1083.0" y1="1606.0" x2="1083.0" y2="1644.0" stroke-width="2.5" stroke-linecap="butt" />
<line x1="1095.0" y1="1606.0" x2="1095.0" y2="1644.0" stroke-width="2.5" stroke-linecap="butt" />
<line x1="1103.0" y1="1606.0" x2="1103.0" y2="1644.0" stroke-width="2.5" stroke-linecap="butt" />
<line x1="1110.0" y1="1606.0" x2="1110.0" y2="1644.0" stroke-width="2.5" stroke-linecap="butt" />
<rect x="1338.0" y="1607.0" width="62.0" height="38.0" stroke-width="4.5" fill="none"/>
<line x1="1349.0" y1="1607.0" x2="1349.0" y2="1645.0" stroke-width="2.5" stroke-linecap="butt" />
<line x1="1356.0" y1="1607.0" x2="1356.0" y2="1645.0" stroke-width="2.5" stroke-linecap="butt" />
<line x1="1366.0" y1="1607.0" x2="1366.0" y2="1645.0" stroke-width="2.5" stroke-linecap="butt" />
<line x1="1372.0" y1="1607.0" x2="1372.0" y2="1645.0" stroke-width="2.5" stroke-linecap="butt" />
<line x1="1378.0" y1="1607.0" x2="1378.0" y2="1645.0" stroke-width="2.5" stroke-linecap="butt" />
<line x1="1389.0" y1="1607.0" x2="1389.0" y2="1645.0" stroke-width="2.5" stroke-linecap="butt" />
<text x="1249" y="1492" font-family="Liberation Sans" font-size="34" font-weight="bold" font-style="italic" textLength="20.0" lengthAdjust="spacingAndGlyphs" stroke="none">4</text>
<line x1="259.0" y1="1319.0" x2="1113.0" y2="1319.0" stroke-width="5" stroke-linecap="butt" />
<line x1="259.0" y1="1389.0" x2="1113.0" y2="1389.0" stroke-width="5" stroke-linecap="butt" />
<line x1="259.0" y1="1319.0" x2="259.0" y2="1389.0" stroke-width="5" stroke-linecap="butt" />
<line x1="435.0" y1="1319.0" x2="435.0" y2="1389.0" stroke-width="4" stroke-linecap="butt" />
<line x1="441.0" y1="1319.0" x2="441.0" y2="1389.0" stroke-width="4" stroke-linecap="butt" />
<line x1="600.0" y1="1319.0" x2="600.0" y2="1389.0" stroke-width="4" stroke-linecap="butt" />
<line x1="606.0" y1="1319.0" x2="606.0" y2="1389.0" stroke-width="4" stroke-linecap="butt" />
<line x1="771.0" y1="1319.0" x2="771.0" y2="1389.0" stroke-width="4" stroke-linecap="butt" />
<line x1="777.0" y1="1319.0" x2="777.0" y2="1389.0" stroke-width="4" stroke-linecap="butt" />
<line x1="942.0" y1="1319.0" x2="942.0" y2="1389.0" stroke-width="4" stroke-linecap="butt" />
<line x1="948.0" y1="1319.0" x2="948.0" y2="1389.0" stroke-width="4" stroke-linecap="butt" />
<line x1="1338.0" y1="1319.0" x2="1539.0" y2="1319.0" stroke-width="5" stroke-linecap="butt" />
<line x1="1338.0" y1="1389.0" x2="1539.0" y2="1389.0" stroke-width="5" stroke-linecap="butt" />
<line x1="1366.0" y1="1319.0" x2="1366.0" y2="1389.0" stroke-width="3" stroke-linecap="butt" />
<line x1="1371.0" y1="1319.0" x2="1371.0" y2="1389.0" stroke-width="3" stroke-linecap="butt" />
<line x1="1537.0" y1="1319.0" x2="1537.0" y2="1389.0" stroke-width="4" stroke-linecap="butt" />
<path d="M1542 1319 L1882 1319 L1882 1389 L1542 1389" stroke-width="5" fill="none" stroke-dasharray="50 16"/>
<path d="M1543 1319 L1543 1389" stroke-width="4" fill="none" stroke-dasharray="22 12"/>
<path d="M1708 1319 L1708 1389" stroke-width="4" fill="none" stroke-dasharray="22 12"/>
<path d="M1714 1319 L1714 1389" stroke-width="4" fill="none" stroke-dasharray="22 12"/>
<line x1="259.0" y1="1588.0" x2="1113.0" y2="1588.0" stroke-width="5" stroke-linecap="butt" />
<line x1="259.0" y1="1659.0" x2="1113.0" y2="1659.0" stroke-width="5" stroke-linecap="butt" />
<line x1="259.0" y1="1588.0" x2="259.0" y2="1659.0" stroke-width="5" stroke-linecap="butt" />
<line x1="435.0" y1="1588.0" x2="435.0" y2="1659.0" stroke-width="4" stroke-linecap="butt" />
<line x1="441.0" y1="1588.0" x2="441.0" y2="1659.0" stroke-width="4" stroke-linecap="butt" />
<line x1="600.0" y1="1588.0" x2="600.0" y2="1659.0" stroke-width="4" stroke-linecap="butt" />
<line x1="606.0" y1="1588.0" x2="606.0" y2="1659.0" stroke-width="4" stroke-linecap="butt" />
<line x1="771.0" y1="1588.0" x2="771.0" y2="1659.0" stroke-width="4" stroke-linecap="butt" />
<line x1="777.0" y1="1588.0" x2="777.0" y2="1659.0" stroke-width="4" stroke-linecap="butt" />
<line x1="942.0" y1="1588.0" x2="942.0" y2="1659.0" stroke-width="4" stroke-linecap="butt" />
<line x1="948.0" y1="1588.0" x2="948.0" y2="1659.0" stroke-width="4" stroke-linecap="butt" />
<line x1="1338.0" y1="1588.0" x2="1539.0" y2="1588.0" stroke-width="5" stroke-linecap="butt" />
<line x1="1338.0" y1="1659.0" x2="1539.0" y2="1659.0" stroke-width="5" stroke-linecap="butt" />
<line x1="1366.0" y1="1588.0" x2="1366.0" y2="1659.0" stroke-width="3" stroke-linecap="butt" />
<line x1="1371.0" y1="1588.0" x2="1371.0" y2="1659.0" stroke-width="3" stroke-linecap="butt" />
<line x1="1537.0" y1="1588.0" x2="1537.0" y2="1659.0" stroke-width="4" stroke-linecap="butt" />
<path d="M1542 1588 L1882 1588 L1882 1659 L1542 1659" stroke-width="5" fill="none" stroke-dasharray="50 16"/>
<path d="M1543 1588 L1543 1659" stroke-width="4" fill="none" stroke-dasharray="22 12"/>
<path d="M1708 1588 L1708 1659" stroke-width="4" fill="none" stroke-dasharray="22 12"/>
<path d="M1714 1588 L1714 1659" stroke-width="4" fill="none" stroke-dasharray="22 12"/>
<path d="M662.0 1367.0 L722.0 1462.0 L672.0 1615.0" stroke-width="4" fill="none" stroke-linejoin="round" />
<text x="724" y="1481" font-family="Liberation Sans" font-size="34" font-weight="bold" font-style="italic" textLength="18.0" lengthAdjust="spacingAndGlyphs" stroke="none">5</text>
<path d="M1822.0 1344.0 L1735.0 1487.0 L1792.0 1605.0" stroke-width="4.5" fill="none" stroke-linejoin="round" />
<text x="1705" y="1510" font-family="Liberation Sans" font-size="34" font-weight="bold" font-style="italic" textLength="20.0" lengthAdjust="spacingAndGlyphs" stroke="none">5</text>
<text x="795" y="1514" font-family="Liberation Sans" font-size="30" font-weight="normal" font-style="normal" textLength="250.0" lengthAdjust="spacingAndGlyphs" stroke="none">направление</text>
<text x="778" y="1566" font-family="Liberation Sans" font-size="34" font-weight="normal" font-style="normal" textLength="187.0" lengthAdjust="spacingAndGlyphs" stroke="none">движения</text>
<line x1="795.0" y1="1530.0" x2="1060.0" y2="1530.0" stroke-width="4.5" stroke-linecap="round" />
<path d="M789.0 1530.0 L835.0 1522.0 L835.0 1538.0 Z" stroke-width="2" fill="#000" stroke-linejoin="round" />
<path d="M1067.0 1530.0 L1035.0 1524.0 L1035.0 1536.0 Z" stroke-width="2" fill="#000" stroke-linejoin="round" />
<rect x="301.0" y="1701.0" width="340.0" height="267.0" stroke-width="5" fill="none"/>
<line x1="292.0" y1="1968.0" x2="641.0" y2="1968.0" stroke-width="5" stroke-linecap="round" />
<rect x="649.0" y="1700.0" width="348.0" height="266.0" stroke-width="5" fill="none"/>
<path d="M474.0 1826.0 L485.0 1818.0 L478.0 1844.0" stroke-width="4.8" fill="none" stroke-linejoin="round" stroke-linecap="round" />
<defs><pattern id="xh" patternUnits="userSpaceOnUse" width="24.4" height="29" x="1062" y="1786"><path d="M-2 -2.4 L26.4 31.4 M26.4 -2.4 L-2 31.4" stroke="#000" stroke-width="3.8" fill="none"/></pattern></defs>
<rect x="1054" y="1786" width="341" height="29" fill="url(#xh)" stroke="none"/>
<rect x="1054.0" y="1786.0" width="341.0" height="29.0" stroke-width="6" fill="none"/>
<path d="M1259.0 1750.0 L1270.0 1742.0 L1264.0 1765.0" stroke-width="4.8" fill="none" stroke-linejoin="round" stroke-linecap="round" />
<path d="M1274.0 1750.0 L1285.0 1742.0 L1279.0 1765.0" stroke-width="4.8" fill="none" stroke-linejoin="round" stroke-linecap="round" />
<line x1="1269.0" y1="1770.0" x2="1265.0" y2="1786.0" stroke-width="3" stroke-linecap="round" />
<rect x="1077.0" y="1846.0" width="116.0" height="107.0" stroke-width="4.5" fill="none"/>
<line x1="1072.0" y1="1953.0" x2="1193.0" y2="1953.0" stroke-width="4.5" stroke-linecap="round" />
<line x1="1108.5" y1="1846.0" x2="1108.5" y2="1953.0" stroke-width="4" stroke-linecap="butt" />
<line x1="1140.0" y1="1846.0" x2="1140.0" y2="1953.0" stroke-width="4" stroke-linecap="butt" />
<line x1="1163.0" y1="1846.0" x2="1163.0" y2="1953.0" stroke-width="4" stroke-linecap="butt" />
<text x="1024" y="1879" font-family="Liberation Sans" font-size="36" font-weight="bold" font-style="normal" textLength="20.0" lengthAdjust="spacingAndGlyphs" stroke="none">2</text>
<line x1="1057.0" y1="1868.0" x2="1092.0" y2="1903.0" stroke-width="4" stroke-linecap="round" />
<line x1="1058.0" y1="1868.0" x2="1125.0" y2="1899.0" stroke-width="3.5" stroke-linecap="round" />
<rect x="1251.0" y="1869.0" width="122.0" height="83.0" stroke-width="4.5" fill="none"/>
<line x1="1291.5" y1="1869.0" x2="1291.5" y2="1952.0" stroke-width="4" stroke-linecap="butt" />
<line x1="1332.0" y1="1869.0" x2="1332.0" y2="1952.0" stroke-width="4" stroke-linecap="butt" />
<path d="M1256.0 1869.0 L1267.0 1845.0 L1282.0 1845.0 L1290.0 1869.0" stroke-width="4.5" fill="none" stroke-linejoin="round" />
<path d="M1292.0 1869.0 L1302.0 1845.0 L1322.0 1845.0 L1332.0 1869.0" stroke-width="4.5" fill="none" stroke-linejoin="round" />
<path d="M1332.0 1869.0 L1342.0 1845.0 L1361.0 1845.0 L1372.0 1869.0" stroke-width="4.5" fill="none" stroke-linejoin="round" />
<text x="1386" y="1881" font-family="Liberation Sans" font-size="36" font-weight="bold" font-style="normal" textLength="20.0" lengthAdjust="spacingAndGlyphs" stroke="none">3</text>
<line x1="1353.0" y1="1895.0" x2="1386.0" y2="1868.0" stroke-width="3.5" stroke-linecap="round" />
<rect x="1529.0" y="1800.0" width="148.0" height="44.0" stroke-width="4.5" fill="none"/>
<line x1="1601.0" y1="1807.0" x2="1624.0" y2="1780.0" stroke-width="3.5" stroke-linecap="round" />
<text x="1625" y="1773" font-family="Liberation Sans" font-size="32" font-weight="bold" font-style="italic" textLength="18.0" lengthAdjust="spacingAndGlyphs" stroke="none">7</text>
<rect x="1449.0" y="1912.0" width="289.0" height="42.0" stroke-width="5" fill="none"/>
<line x1="1449.0" y1="1925.0" x2="1738.0" y2="1925.0" stroke-width="2.5" stroke-linecap="butt" />
<line x1="1449.0" y1="1934.0" x2="1738.0" y2="1934.0" stroke-width="2.5" stroke-linecap="butt" />
<line x1="1449.0" y1="1943.0" x2="1738.0" y2="1943.0" stroke-width="2.5" stroke-linecap="butt" />
<line x1="1449.0" y1="1914.0" x2="1738.0" y2="1914.0" stroke-width="5" stroke-linecap="butt" />
<line x1="1653.0" y1="1924.0" x2="1682.0" y2="1894.0" stroke-width="3.5" stroke-linecap="round" />
<text x="1687" y="1890" font-family="Liberation Sans" font-size="34" font-weight="bold" font-style="italic" textLength="19.0" lengthAdjust="spacingAndGlyphs" stroke="none">8</text>
<line x1="1795.0" y1="1705.0" x2="1837.0" y2="1705.0" stroke-width="5" stroke-linecap="butt" />
<line x1="1842.0" y1="1705.0" x2="1905.0" y2="1705.0" stroke-width="5" stroke-linecap="butt" />
<line x1="1960.0" y1="1705.0" x2="2015.0" y2="1705.0" stroke-width="5" stroke-linecap="butt" />
<line x1="2022.0" y1="1705.0" x2="2082.0" y2="1705.0" stroke-width="5" stroke-linecap="butt" />
<line x1="2095.0" y1="1705.0" x2="2135.0" y2="1705.0" stroke-width="5" stroke-linecap="butt" />
<line x1="1792.0" y1="1965.0" x2="1835.0" y2="1965.0" stroke-width="5" stroke-linecap="butt" />
<line x1="1850.0" y1="1965.0" x2="1902.0" y2="1965.0" stroke-width="5" stroke-linecap="butt" />
<line x1="1917.0" y1="1965.0" x2="1970.0" y2="1965.0" stroke-width="5" stroke-linecap="butt" />
<line x1="1987.0" y1="1965.0" x2="2050.0" y2="1965.0" stroke-width="5" stroke-linecap="butt" />
<line x1="2060.0" y1="1965.0" x2="2134.0" y2="1965.0" stroke-width="5" stroke-linecap="butt" />
<line x1="2134.0" y1="1703.0" x2="2134.0" y2="1760.0" stroke-width="4.5" stroke-linecap="butt" />
<line x1="2134.0" y1="1782.0" x2="2134.0" y2="1825.0" stroke-width="4.5" stroke-linecap="butt" />
<line x1="2134.0" y1="1847.0" x2="2134.0" y2="1907.0" stroke-width="4.5" stroke-linecap="butt" />
<line x1="2134.0" y1="1922.0" x2="2134.0" y2="1968.0" stroke-width="4.5" stroke-linecap="butt" />
<line x1="1795.0" y1="1703.0" x2="1795.0" y2="1782.0" stroke-width="4.5" stroke-linecap="butt" />
<line x1="1795.0" y1="1792.0" x2="1795.0" y2="1840.0" stroke-width="4.5" stroke-linecap="butt" />
<line x1="1795.0" y1="1860.0" x2="1795.0" y2="1907.0" stroke-width="4.5" stroke-linecap="butt" />
<line x1="1795.0" y1="1920.0" x2="1795.0" y2="1967.0" stroke-width="4.5" stroke-linecap="butt" />
<path d="M1959.0 1834.0 L1970.0 1826.0 L1963.0 1849.0" stroke-width="4.8" fill="none" stroke-linejoin="round" stroke-linecap="round" />
<text x="1936" y="668" font-family="Liberation Serif" font-size="42" font-weight="normal" font-style="normal" textLength="215.0" lengthAdjust="spacing" stroke="#000" stroke-width="0.3">Ось дрена-</text>
<text x="1955" y="717" font-family="Liberation Serif" font-size="42" font-weight="normal" font-style="normal" textLength="46.0" lengthAdjust="spacing" stroke="#000" stroke-width="0.3">жа</text>
<line x1="2011.0" y1="715.0" x2="2120.0" y2="716.0" stroke-width="3.5" stroke-linecap="round" />
<text x="1974" y="945" font-family="Liberation Serif" font-size="42" font-weight="normal" font-style="normal" textLength="173.0" lengthAdjust="spacing" stroke="#000" stroke-width="0.3">Ось кол-</text>
<text x="1972" y="995" font-family="Liberation Serif" font-size="42" font-weight="normal" font-style="normal" textLength="153.0" lengthAdjust="spacing" stroke="#000" stroke-width="0.3">лектора</text>
<text x="236" y="2170" font-family="Liberation Mono" font-size="40" textLength="491.0" lengthAdjust="spacingAndGlyphs" stroke="#000" xml:space="preserve"><tspan stroke-width="0.4">Условные обозначения:</tspan></text>
<text x="239" y="2219" font-family="Liberation Mono" font-size="40" textLength="1787.0" lengthAdjust="spacingAndGlyphs" stroke="#000" xml:space="preserve" transform="rotate(0.15 239 2219)"><tspan stroke-width="0.7">1- сцепка коллектора; 2-  </tspan><tspan stroke-width="2.0">ящики для</tspan><tspan stroke-width="1.1"> раствора; 3- бункера-контейнеры для шебня</tspan></text>
<text x="247" y="2267.5" font-family="Liberation Mono" font-size="40" textLength="1700.0" lengthAdjust="spacingAndGlyphs" stroke="#000" xml:space="preserve" transform="rotate(0.2 247 2267.5)"><tspan stroke-width="1.0">(песка); 4- гусеничный кран; 5- временная дорога из плит ПД; 6- ящик для</tspan></text>
<text x="240" y="2317.5" font-family="Liberation Mono" font-size="40" textLength="1836.0" lengthAdjust="spacingAndGlyphs" stroke="#000" xml:space="preserve" transform="rotate(0.24 240 2317.5)"><tspan stroke-width="1.0">инструмента; 7- дренажные колодцы; 8- трубы дренажа; 9- лестница; 10- дренаж;</tspan></text>
<text x="249" y="2359" font-family="Liberation Mono" font-size="40" textLength="436.0" lengthAdjust="spacingAndGlyphs" stroke="#000" xml:space="preserve"><tspan stroke-width="1.5">11-трубы коллектора</tspan></text>
<text x="243" y="2447.5" font-family="Liberation Mono" font-size="40" textLength="439.0" lengthAdjust="spacingAndGlyphs" stroke="#000" xml:space="preserve"><tspan stroke-width="1.0">1. Отрытие траншеи,</tspan></text>
<text x="235" y="2494" font-family="Liberation Mono" font-size="40" textLength="1130.0" lengthAdjust="spacingAndGlyphs" stroke="#000" xml:space="preserve" transform="rotate(0.1 235 2494)"><tspan stroke-width="0.8">2. Подготовка основания </tspan><tspan stroke-width="1.4">для дренажа и коллектора.</tspan></text>
<text x="245" y="2545" font-family="Liberation Mono" font-size="40" textLength="745.0" lengthAdjust="spacingAndGlyphs" stroke="#000" xml:space="preserve" transform="rotate(0.1 245 2545)"><tspan stroke-width="0.9">3. Установка </tspan><tspan stroke-width="1.8">дренажных колодцев.</tspan></text>
<text x="242" y="2596" font-family="Liberation Mono" font-size="40" textLength="1905.0" lengthAdjust="spacingAndGlyphs" stroke="#000" xml:space="preserve" transform="rotate(0.15 242 2596)"><tspan stroke-width="0.9">4. Монтаж </tspan><tspan stroke-width="1.6">коллекторов с заделкой стыков и начинкой коллекторов трубопроводами</tspan><tspan stroke-width="0.6"> и др</tspan></text>
<text x="236" y="2646" font-family="Liberation Mono" font-size="40" textLength="846.0" lengthAdjust="spacingAndGlyphs" stroke="#000" xml:space="preserve" transform="rotate(0.1 236 2646)"><tspan stroke-width="1.5">5. Гидроизоляция коллекторов (стыки).</tspan></text>
<text x="243" y="2701" font-family="Liberation Mono" font-size="40" textLength="872.0" lengthAdjust="spacingAndGlyphs" stroke="#000" xml:space="preserve" transform="rotate(0.1 243 2701)"><tspan stroke-width="1.5">6. Прокладка труб  дренажа с обсыпкой.</tspan></text>
<text x="225" y="2751" font-family="Liberation Mono" font-size="40" textLength="657.0" lengthAdjust="spacingAndGlyphs" stroke="#000" xml:space="preserve" transform="rotate(0.1 225 2751)"><tspan stroke-width="1.1">7. Присыпка грунтом дренажа.</tspan></text>
<text x="226" y="2802" font-family="Liberation Mono" font-size="40" textLength="459.0" lengthAdjust="spacingAndGlyphs" stroke="#000" xml:space="preserve" transform="rotate(0.1 226 2802)"><tspan stroke-width="1.6">8. Обратная засыпка.</tspan></text>
<text x="236" y="2924" font-family="Liberation Mono" font-size="40" textLength="1803.0" lengthAdjust="spacingAndGlyphs" stroke="#000" xml:space="preserve" transform="rotate(0.2 236 2924)"><tspan stroke-width="0.3">По ходу монтажа </tspan><tspan stroke-width="1.8">ранее уложенные дорожные плиты перекладываются для последу-</tspan></text>
<text x="240" y="2981" font-family="Liberation Mono" font-size="44" textLength="545.0" lengthAdjust="spacingAndGlyphs" stroke="#000" xml:space="preserve" transform="rotate(0.1 240 2981)"><tspan stroke-width="1.3">ющего устройства дороги</tspan></text>
<text x="1066" y="2399" font-family="Liberation Mono" font-size="49" font-weight="normal" font-style="normal" textLength="361.0" lengthAdjust="spacingAndGlyphs" stroke="#000" stroke-width="0.4">СОСТАВ РАБОТ</text>
<text x="236" y="2874" font-family="Liberation Sans" font-size="38" font-weight="normal" font-style="normal" textLength="321.0" lengthAdjust="spacingAndGlyphs" stroke="none">ПРИМЕЧАНИЕ.</text>
<path d="M222.3 3017 C221 3009 226 3006 231.2 3006.5 C238 3007 242 3011 240.6 3015 C238 3022 225 3031 218.6 3039.5 C226 3036 236 3033 247 3032.7" stroke-width="4.8" fill="none" stroke-linejoin="round" stroke-linecap="round" />
<path d="M275.7 3010.2 C270 3006 262 3005.5 256 3009 C250 3013 248.5 3022 248.5 3029 C249 3035 254 3037 262.6 3036.4 C270 3035 274 3030 272.5 3026.4 C270 3022 262 3022 254.7 3024.3 C252 3026 251 3029 251 3030.6" stroke-width="4.8" fill="none" stroke-linejoin="round" stroke-linecap="round" />
</g>
</svg>
</body></html>
